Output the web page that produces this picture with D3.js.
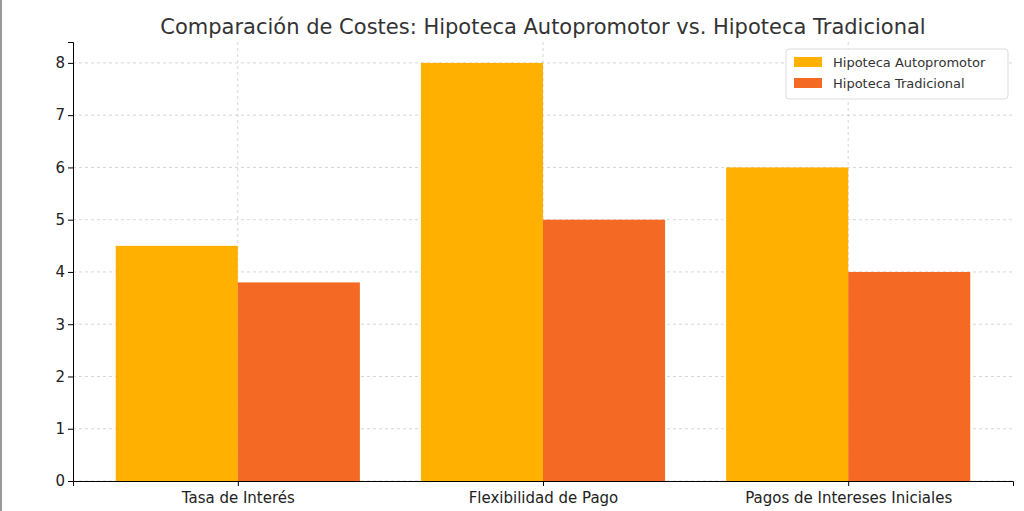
<!DOCTYPE html>
<html><head><meta charset="utf-8">
<script src="https://cdn.jsdelivr.net/npm/d3@7"></script>
<style>body{margin:0;background:#fff}svg{font-family:"DejaVu Sans",sans-serif}</style>
</head><body><div id="chart"></div>
<script>
// data
const categories = ["Tasa de Interés", "Flexibilidad de Pago", "Pagos de Intereses Iniciales"];
const autopromotor = [4.5, 8, 6];
const tradicional = [3.8, 5, 4];
const seriesNames = ["Hipoteca Autopromotor", "Hipoteca Tradicional"];
const colors = ["#FFB000", "#F46A25"];
const yTicks = [0, 1, 2, 3, 4, 5, 6, 7, 8];

const width = 1024, height = 511;
const svg = d3.select("#chart").append("svg").attr("width", width).attr("height", height);

// grey frame on the left edge
svg.append("rect").attr("x", 0).attr("y", 0).attr("width", 2).attr("height", height).attr("fill", "#999");

const x = d3.scaleLinear().domain([-0.54, 2.54]).range([73, 1013]);
const y = d3.scaleLinear().domain([0, 8.4]).range([481, 42]);
const bw = x(0.4) - x(0);

// grid
svg.append("g").selectAll("line").data(yTicks).join("line")
  .attr("x1", 73).attr("x2", 1013).attr("y1", d => y(d)).attr("y2", d => y(d))
  .attr("stroke", "#ccc").attr("stroke-dasharray", "3,3").attr("stroke-width", 0.8);
svg.append("g").selectAll("line").data(categories).join("line")
  .attr("x1", (d, i) => x(i)).attr("x2", (d, i) => x(i)).attr("y1", 42).attr("y2", 481)
  .attr("stroke", "#ccc").attr("stroke-dasharray", "3,3").attr("stroke-width", 0.8);

// bars
[autopromotor, tradicional].forEach((vals, s) => {
  svg.append("g").selectAll("rect").data(vals).join("rect")
    .attr("x", (d, i) => x(i) - bw + s * bw).attr("width", bw)
    .attr("y", d => y(d)).attr("height", d => y(0) - y(d))
    .attr("fill", colors[s]);
});

// axes
const yAxis = svg.append("g").attr("transform", "translate(73,0)")
  .call(d3.axisLeft(y).tickValues(yTicks).tickSize(5));
const xAxis = svg.append("g").attr("transform", "translate(0,481)")
  .call(d3.axisBottom(x).tickValues([0, 1, 2]).tickFormat(i => categories[i]).tickSize(5));
[yAxis, xAxis].forEach(a => {
  a.select(".domain").attr("stroke", "#000");
  a.selectAll("text").attr("font-size", 15).attr("fill", "#222").attr("font-family", "DejaVu Sans");
});
xAxis.selectAll("text").attr("dy", "0.9em");

// title
svg.append("text").attr("x", 543).attr("y", 34).attr("text-anchor", "middle")
  .attr("font-size", 21).attr("fill", "#333").text("Comparación de Costes: Hipoteca Autopromotor vs. Hipoteca Tradicional");

// legend
const lg = svg.append("g").attr("transform", "translate(786,49)");
lg.append("rect").attr("width", 222).attr("height", 50).attr("rx", 3)
  .attr("fill", "#fff").attr("fill-opacity", 0.85).attr("stroke", "#ddd");
seriesNames.forEach((n, i) => {
  lg.append("rect").attr("x", 8).attr("y", 8 + i * 21).attr("width", 28).attr("height", 10).attr("fill", colors[i]);
  lg.append("text").attr("x", 47).attr("y", 18 + i * 21).attr("font-size", 13).attr("fill", "#333").text(n);
});
</script></body></html>
